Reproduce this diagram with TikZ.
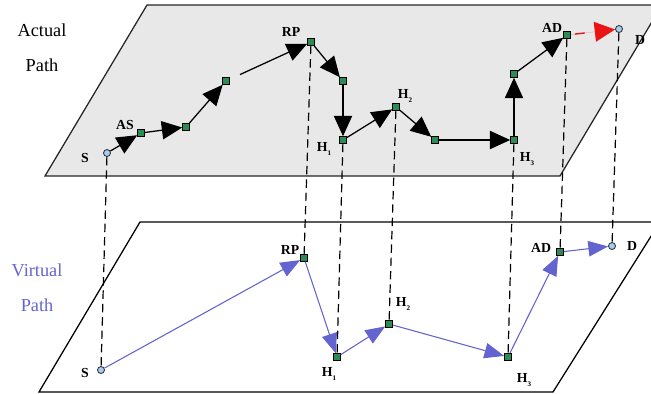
\documentclass[tikz,border=0pt]{standalone}
\usepackage{fontspec}
\setmainfont{Liberation Serif}
\usepackage{xcolor}
\usepackage{tikz}
\usetikzlibrary{arrows.meta, positioning, calc}

\definecolor{planegray}{RGB}{232,232,232}
\definecolor{hopgreen}{RGB}{45,140,85}
\definecolor{endblue}{RGB}{165,205,240}
\definecolor{virtblue}{RGB}{100,100,208}
\definecolor{arrred}{RGB}{235,20,20}

\newcommand{\hsub}[1]{\textbf{H}\raisebox{-0.6ex}{\fontsize{5}{5}\selectfont\bfseries #1}}

\tikzset{
  %% Hop node (green square)
  hop/.style={
    rectangle, draw=black, fill=hopgreen,
    minimum size=4.8pt, inner sep=0pt, line width=0.6pt
  },
  %% Source / destination (blue circle)
  endp/.style={
    circle, draw=black!80, fill=endblue,
    minimum size=5pt, inner sep=0pt, line width=0.6pt
  },
  %% Node label
  lbl/.style={font=\fontsize{9.8}{11}\selectfont\bfseries, inner sep=1pt},
  %% Plane title
  ptitle/.style={font=\fontsize{13}{25}\selectfont, align=center, inner sep=0pt},
  %% Arrows
  aarr/.style={-{Triangle[length=14.5pt,width=13pt]},
               draw=black, line width=0.9pt},
  varr/.style={-{Triangle[length=14pt,width=11pt]},
               draw=virtblue, fill=virtblue, line width=0.75pt},
  rarr/.style={-{Triangle[length=14.5pt,width=14pt]},
               draw=arrred, fill=arrred, line width=1pt,
               dash pattern=on 0pt off 3pt on 7pt off 40pt},
  %% Projection line
  proj/.style={draw=black, line width=0.85pt, dash pattern=on 6pt off 3.5pt},
}

\begin{document}
\begin{tikzpicture}[x=0.025cm, y=-0.025cm]
  \clip (0,0) rectangle (651,394);

  %% Planes
  \filldraw[fill=planegray, draw=black!85, line width=0.9pt]
    (147,5) -- (662,5) -- (560,176) -- (45,176) -- cycle;
  \draw[black, line width=0.9pt]
    (140,222) -- (660,222) -- (553,392) -- (39,392) -- cycle;

  %% Plane titles
  \node[ptitle] (tTitle) at (42,48) {Actual\\Path};
  \node[ptitle, text=virtblue] (bTitle) at (37,288) {Virtual\\Path};

  %% Actual path nodes
  \node[endp] (tS)   at (107,153) {};
  \node[hop]  (tAS)  at (141,133) {};
  \node[hop]  (tA2)  at (186,127) {};
  \node[hop]  (tA3)  at (226,81)  {};
  \node[hop]  (tRP)  at (311,42)  {};
  \node[hop]  (tA5)  at (343,81)  {};
  \node[hop]  (tH1)  at (343,140) {};
  \node[hop]  (tH2)  at (396,107) {};
  \node[hop]  (tA8)  at (435,140) {};
  \node[hop]  (tH3)  at (514,140) {};
  \node[hop]  (tA10) at (514,74)  {};
  \node[hop]  (tAD)  at (567,35)  {};
  \node[endp] (tD)   at (619,29)  {};

  %% Virtual path nodes
  \node[endp] (bS)  at (101,370) {};
  \node[hop]  (bRP) at (304,258) {};
  \node[hop]  (bH1) at (337,357) {};
  \node[hop]  (bH2) at (389,324) {};
  \node[hop]  (bH3) at (508,357) {};
  \node[hop]  (bAD) at (560,252) {};
  \node[endp] (bD)  at (612,246) {};

  %% Labels
  \node[lbl] (tSl)  at (85,158)  {S};
  \node[lbl] (tASl) at (125,125) {AS};
  \node[lbl] (tRPl) at (291,32)  {RP};
  \node[lbl] (tH1l) at (324,149) {\hsub{1}};
  \node[lbl] (tH2l) at (405,96)  {\hsub{2}};
  \node[lbl] (tH3l) at (527,159) {\hsub{3}};
  \node[lbl] (tADl) at (552,28)  {AD};
  \node[lbl] (tDl)  at (640,40)  {D};
  \node[lbl] (bSl)  at (85,373)  {S};
  \node[lbl] (bRPl) at (290,250) {RP};
  \node[lbl] (bH1l) at (329,374) {\hsub{1}};
  \node[lbl] (bH2l) at (403,304) {\hsub{2}};
  \node[lbl] (bH3l) at (524,380) {\hsub{3}};
  \node[lbl] (bADl) at (541,248) {AD};
  \node[lbl] (bDl)  at (632,246) {D};

  %% Projections
  \foreach \n in {S,RP,H1,H2,H3,AD,D}
    \draw[proj] (t\n) -- (b\n);

  %% Actual path
  \foreach \a/\b in {tS/tAS, tAS/tA2, tA2/tA3, tRP/tA5, tA5/tH1,
                     tH1/tH2, tH2/tA8, tA8/tH3, tH3/tA10, tA10/tAD}
    \draw[aarr] (\a) -- (\b);
  \draw[aarr, shorten <=8pt] (tA3) -- (tRP);
  \draw[rarr] (tAD) -- (tD);

  %% Virtual path
  \foreach \a/\b in {bS/bRP, bRP/bH1, bH1/bH2, bH2/bH3, bH3/bAD, bAD/bD}
    \draw[varr] (\a) -- (\b);
\end{tikzpicture}
\end{document}
